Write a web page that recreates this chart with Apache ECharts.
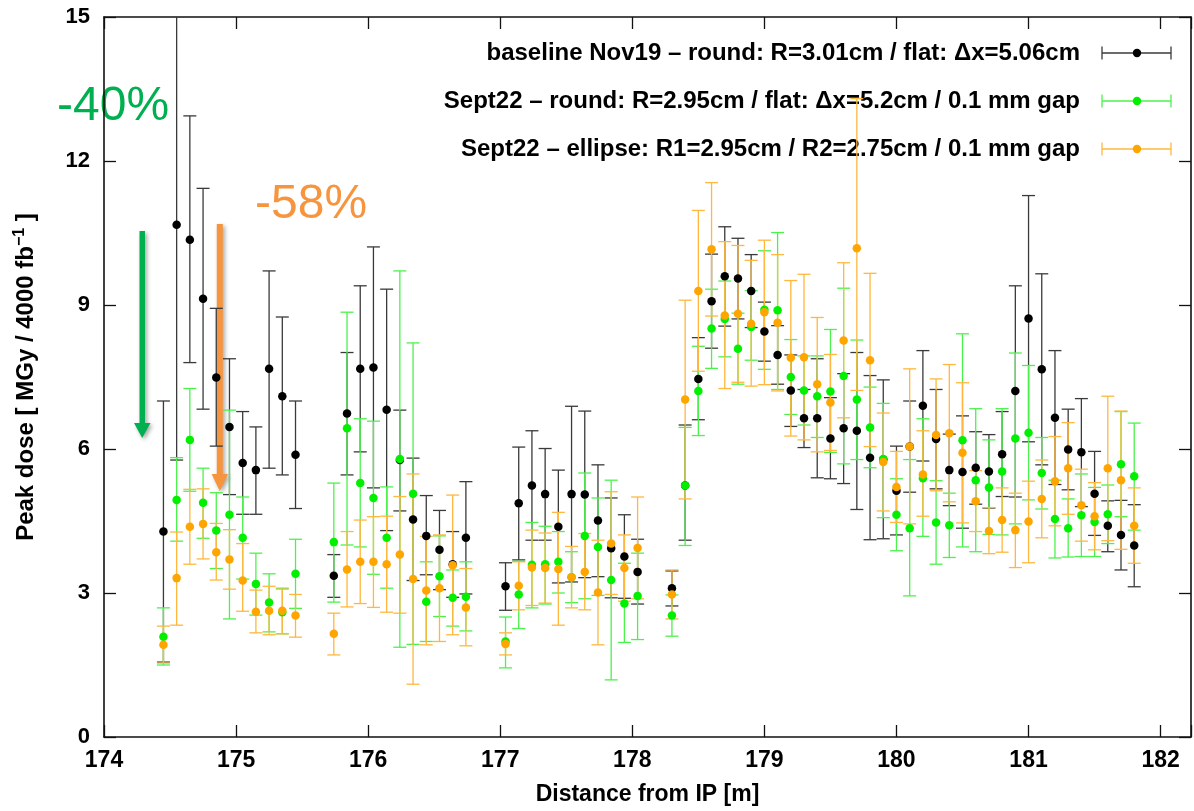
<!DOCTYPE html>
<html>
<head>
<meta charset="utf-8">
<script src="https://cdn.jsdelivr.net/npm/echarts@6/dist/echarts.min.js"></script>
<style>
html,body{margin:0;padding:0;background:#fff;}
#chart{width:1194px;height:811px;}
</style>
</head>
<body>
<div id="chart"></div>
<script>
// ---- data ----
const xPos = [
  174.45,174.55,174.65,174.75,174.85,174.95,175.05,175.15,175.25,175.35,175.45,
  175.74,175.84,175.94,176.04,176.14,176.24,176.34,176.44,176.54,176.64,176.74,
  177.04,177.14,177.24,177.34,177.44,177.54,177.64,177.74,177.84,177.94,178.04,
  178.30,178.40,178.50,178.60,178.70,178.80,178.90,179.00,179.10,179.20,179.30,179.40,
  179.50,179.60,179.70,179.80,179.90,180.00,180.10,180.20,180.30,180.40,180.50,180.60,
  180.70,180.80,180.90,181.00,181.10,181.20,181.30,181.40,181.50,181.60,181.70,181.80
];
const blackY  = [4.28,10.67,10.36,9.13,7.49,6.46,5.71,5.56,7.67,7.10,5.88,
  3.36,6.74,7.67,7.70,6.82,5.77,4.53,4.19,3.90,3.60,4.15,
  3.14,4.87,5.24,5.06,4.38,5.06,5.05,4.51,3.93,3.76,3.44,
  3.10,5.24,7.46,9.08,9.60,9.55,9.29,8.45,7.96,7.22,6.64,6.64,
  6.22,6.43,6.38,5.82,5.78,5.13,6.05,6.90,6.21,5.56,5.52,5.61,
  5.53,5.89,7.21,8.72,7.66,6.65,5.99,5.93,5.07,4.40,4.21,3.99];
const blackLo = [1.56,5.77,7.80,6.83,6.06,5.05,4.64,4.64,5.60,5.46,4.76,
  2.91,5.46,5.94,5.19,4.30,4.71,3.26,3.38,3.07,2.91,2.98,
  2.64,3.69,4.10,4.10,3.21,3.23,3.32,3.34,2.90,2.89,2.77,
  2.73,4.10,6.61,8.10,8.56,8.71,8.53,7.83,7.35,6.47,6.03,5.40,
  5.38,5.28,4.74,4.11,4.13,4.21,5.10,5.75,5.17,4.82,4.35,4.85,
  4.77,5.01,5.00,6.15,5.67,5.26,5.15,4.80,4.20,3.86,3.48,3.13];
const blackHi = [7.00,15.60,12.94,11.43,8.93,7.88,6.78,6.46,9.71,8.75,7.00,
  3.80,8.01,9.40,10.21,9.33,6.81,5.81,5.03,4.72,4.28,5.32,
  3.63,6.04,6.38,6.01,5.56,6.89,6.79,5.67,4.98,4.63,4.12,
  3.46,6.50,8.32,10.06,10.63,10.39,10.05,9.06,8.57,7.96,7.24,7.88,
  7.07,7.57,8.01,7.53,7.44,6.06,7.00,8.05,7.24,6.31,6.69,6.36,
  6.30,6.78,9.40,11.28,9.65,8.05,6.83,7.05,5.95,4.92,4.93,4.84];
const greenY  = [2.09,4.94,6.19,4.88,4.30,4.63,4.15,3.19,2.80,2.60,3.40,
  4.06,6.43,5.29,4.98,4.15,5.79,5.07,2.82,3.35,2.90,2.92,
  1.99,2.97,3.59,3.60,3.65,3.33,4.19,3.96,3.27,2.78,2.94,
  2.53,5.24,7.21,8.51,8.71,8.09,8.54,8.90,8.89,7.50,7.22,7.10,
  7.20,7.52,7.03,6.45,5.79,4.63,4.35,5.39,4.47,4.41,6.18,5.35,
  5.20,5.53,6.22,6.34,5.50,4.54,4.35,4.62,4.48,4.64,5.68,5.43];
const greenLo = [1.50,4.08,5.12,4.14,3.51,2.46,3.29,2.54,2.19,2.15,2.68,
  2.81,4.00,3.96,3.39,3.10,1.87,1.93,1.99,2.51,2.31,2.21,
  1.44,2.26,2.69,2.77,3.00,2.80,2.88,2.95,1.19,1.97,2.03,
  2.10,3.99,6.28,7.68,7.92,7.35,7.85,7.66,7.24,6.72,6.50,6.24,
  5.93,5.69,5.78,5.61,4.57,3.88,2.94,4.18,3.60,3.74,3.96,3.86,
  4.22,4.21,4.44,4.94,4.75,3.73,3.75,3.76,3.76,4.03,4.59,4.31];
const greenHi = [2.69,5.82,7.26,5.60,5.09,6.81,5.00,3.83,3.40,3.10,4.12,
  5.29,8.85,6.63,6.58,5.21,9.71,8.21,3.65,4.19,3.48,3.65,
  2.50,3.66,4.47,4.39,4.28,3.86,5.50,4.98,5.35,3.62,3.83,
  2.96,6.45,8.14,9.33,9.50,8.83,9.30,10.13,10.51,8.28,7.94,7.94,
  8.49,9.35,8.27,7.29,6.95,5.38,5.78,6.63,5.34,5.08,8.40,6.84,
  6.19,6.84,8.00,7.74,6.24,5.35,4.96,5.48,5.20,5.25,6.78,6.54];
const orangeY  = [1.92,3.31,4.38,4.44,3.85,3.70,3.26,2.61,2.63,2.63,2.53,
  2.15,3.49,3.65,3.65,3.60,3.80,3.29,3.05,3.10,3.58,2.70,
  1.94,3.15,3.53,3.52,3.50,3.33,3.44,3.01,4.03,3.52,3.94,
  2.97,7.03,9.29,10.16,8.78,8.82,8.61,8.85,8.63,7.90,7.91,7.35,
  6.97,8.26,10.18,7.85,5.73,5.21,6.05,5.47,6.29,6.33,5.92,4.91,
  4.29,4.52,4.31,4.49,4.96,5.33,5.60,4.83,4.60,5.60,5.35,4.40];
const orangeLo = [1.54,2.33,3.60,3.71,3.27,3.08,2.62,2.17,2.13,2.15,2.08,
  1.71,2.71,2.78,2.70,2.60,2.58,1.10,1.92,1.99,2.13,1.90,
  1.71,2.65,2.74,2.79,2.33,2.69,2.65,1.92,2.97,2.83,2.88,
  2.46,4.96,7.62,8.77,7.26,7.39,7.31,7.34,7.21,6.27,6.19,5.94,
  5.97,6.65,7.22,6.05,4.71,4.47,4.44,4.60,5.13,4.90,4.46,4.28,
  3.82,3.85,3.53,3.63,4.15,4.40,4.64,4.08,3.90,4.09,3.91,3.62];
const orangeHi = [2.31,4.27,5.16,5.17,4.45,4.32,4.03,3.06,3.14,3.08,2.97,
  2.58,4.28,4.52,4.59,4.60,5.01,5.48,4.18,4.21,5.04,3.51,
  2.17,3.65,4.31,4.25,4.68,3.97,4.24,4.10,5.11,4.21,5.00,
  3.48,9.10,10.97,11.55,10.32,10.24,9.93,10.35,10.05,9.51,9.64,8.74,
  7.97,9.88,13.30,9.66,6.75,5.95,7.67,6.38,7.46,7.76,7.38,5.55,
  4.78,5.19,5.08,5.33,5.77,6.26,6.55,5.58,5.30,7.10,6.79,5.19];
const yTicks = [0, 3, 6, 9, 12, 15];
const legendNames = [
  'baseline Nov19 – round: R=3.01cm / flat: Δx=5.06cm',
  'Sept22 – round: R=2.95cm / flat: Δx=5.2cm / 0.1 mm gap',
  'Sept22 – ellipse: R1=2.95cm / R2=2.75cm / 0.1 mm gap'
];
const annotations = ['-40%', '-58%'];

// ---- styles ----
const FONT = "'Liberation Sans', Arial, Helvetica, sans-serif";
const colors = {
  black:  {pt: '#000000', bar: '#3a3a3a'},
  green:  {pt: '#00f000', bar: '#4cf24c'},
  orange: {pt: '#ffa500', bar: '#ffb73d'}
};

function buildRows(ys, los, his) {
  return xPos.map((x, i) => [x, ys[i], los[i], his[i]]);
}

function errSeries(name, rows, color) {
  return {
    type: 'custom', name: name + ' err', clip: true,
    xAxisIndex: 0, yAxisIndex: 0,
    data: rows, encode: {x: 0, y: [1, 2, 3]},
    silent: true,
    renderItem: function (params, api) {
      const x = api.value(0), lo = api.value(2), hi = api.value(3);
      const a = api.coord([x, lo]), b = api.coord([x, hi]);
      const hw = 6.5;
      const st = {stroke: color, lineWidth: 1.3};
      return {type: 'group', children: [
        {type: 'line', shape: {x1: a[0], y1: a[1], x2: b[0], y2: b[1]}, style: st},
        {type: 'line', shape: {x1: a[0] - hw, y1: a[1], x2: a[0] + hw, y2: a[1]}, style: st},
        {type: 'line', shape: {x1: b[0] - hw, y1: b[1], x2: b[0] + hw, y2: b[1]}, style: st}
      ]};
    }
  };
}
function ptSeries(name, rows, color) {
  return {
    type: 'scatter', name: name, xAxisIndex: 0, yAxisIndex: 0,
    data: rows.map(r => [r[0], r[1]]),
    symbol: 'circle', symbolSize: 8.5,
    itemStyle: {color: color, opacity: 1},
    silent: true
  };
}

const rowsB = buildRows(blackY, blackLo, blackHi);
const rowsG = buildRows(greenY, greenLo, greenHi);
const rowsO = buildRows(orangeY, orangeLo, orangeHi);

const XMIN = 174, XMAX = 182.23;
const axisLineStyle = {color: '#111', width: 1.6};
const tickStyle = {show: true, inside: true, length: 12, lineStyle: {color: '#111', width: 1.3}};

// legend entries
const legendY = [53, 101, 149];
const legendCol = [colors.black, colors.green, colors.orange];
const legendGraphics = [];
legendNames.forEach((nm, i) => {
  const y = legendY[i];
  legendGraphics.push({type: 'text', x: 1080, y: y,
    style: {text: nm, font: 'bold 24px ' + FONT, fill: '#000', textAlign: 'right', textVerticalAlign: 'middle'}});
  const c = legendCol[i];
  const st = {stroke: c.bar, lineWidth: 1.3};
  legendGraphics.push({type: 'line', shape: {x1: 1102, y1: y, x2: 1171, y2: y}, style: st});
  legendGraphics.push({type: 'line', shape: {x1: 1102, y1: y - 6.5, x2: 1102, y2: y + 6.5}, style: st});
  legendGraphics.push({type: 'line', shape: {x1: 1171, y1: y - 6.5, x2: 1171, y2: y + 6.5}, style: st});
  legendGraphics.push({type: 'circle', shape: {cx: 1137, cy: y, r: 4.2}, style: {fill: c.pt}});
});

const shadow = {shadowBlur: 4, shadowColor: 'rgba(0,0,0,0.35)', shadowOffsetX: 2, shadowOffsetY: 2};
const annoGraphics = [
  {type: 'text', x: 57, y: 107, style: {text: annotations[0], font: '48px ' + FONT, fill: '#00b050', textVerticalAlign: 'middle'}},
  {type: 'text', x: 255, y: 205, style: {text: annotations[1], font: '48px ' + FONT, fill: '#f7943e', textVerticalAlign: 'middle'}},
  {type: 'polygon', shape: {points: [[139.5,231],[145,231],[145,423],[150.5,423],[142.2,438],[134,423],[139.5,423]]},
    style: Object.assign({fill: '#00b050'}, shadow)},
  {type: 'polygon', shape: {points: [[216.8,224],[222.8,224],[222.8,474],[228,474],[219.8,491],[211.6,474],[216.8,474]]},
    style: Object.assign({fill: '#f7943e'}, shadow)}
];

const chart = echarts.init(document.getElementById('chart'), null, {renderer: 'canvas'});
chart.setOption({
  backgroundColor: '#fff',
  animation: false,
  grid: {left: 104, right: 3, top: 17, bottom: 73, containLabel: false},
  xAxis: [
    {type: 'value', position: 'bottom', min: XMIN, max: XMAX, interval: 1,
     axisLine: {show: true, onZero: false, lineStyle: axisLineStyle},
     axisTick: tickStyle, splitLine: {show: false},
     axisLabel: {show: true, margin: 12, color: '#000', fontFamily: FONT, fontWeight: 'bold', fontSize: 23,
       formatter: v => (Math.abs(v - Math.round(v)) < 1e-6 ? String(Math.round(v)) : '')},
     name: 'Distance from IP [m]', nameLocation: 'middle', nameGap: 46,
     nameTextStyle: {color: '#000', fontFamily: FONT, fontWeight: 'bold', fontSize: 23}},
    {type: 'value', position: 'top', min: XMIN, max: XMAX, interval: 1,
     axisLine: {show: true, onZero: false, lineStyle: axisLineStyle},
     axisTick: tickStyle, axisLabel: {show: false}, splitLine: {show: false}}
  ],
  yAxis: [
    {type: 'value', position: 'left', min: yTicks[0], max: yTicks[yTicks.length - 1], interval: 3,
     axisLine: {show: true, onZero: false, lineStyle: axisLineStyle},
     axisTick: tickStyle, splitLine: {show: false},
     axisLabel: {show: true, margin: 14, color: '#000', fontFamily: FONT, fontWeight: 'bold', fontSize: 22},
     name: 'Peak dose [ MGy / 4000 fb{sup|−1} ]', nameLocation: 'middle', nameGap: 63, nameRotate: 90,
     nameTextStyle: {color: '#000', fontFamily: FONT, fontWeight: 'bold', fontSize: 24,
       rich: {sup: {fontFamily: FONT, fontWeight: 'bold', fontSize: 16, color: '#000', padding: [0, 0, 13, 0]}}}},
    {type: 'value', position: 'right', min: yTicks[0], max: yTicks[yTicks.length - 1], interval: 3,
     axisLine: {show: true, onZero: false, lineStyle: axisLineStyle},
     axisTick: tickStyle, axisLabel: {show: false}, splitLine: {show: false}}
  ],
  series: [
    errSeries(legendNames[0], rowsB, colors.black.bar),
    ptSeries(legendNames[0], rowsB, colors.black.pt),
    errSeries(legendNames[1], rowsG, colors.green.bar),
    ptSeries(legendNames[1], rowsG, colors.green.pt),
    errSeries(legendNames[2], rowsO, colors.orange.bar),
    ptSeries(legendNames[2], rowsO, colors.orange.pt)
  ],
  graphic: {elements: legendGraphics.concat(annoGraphics)}
});
</script>
</body>
</html>
